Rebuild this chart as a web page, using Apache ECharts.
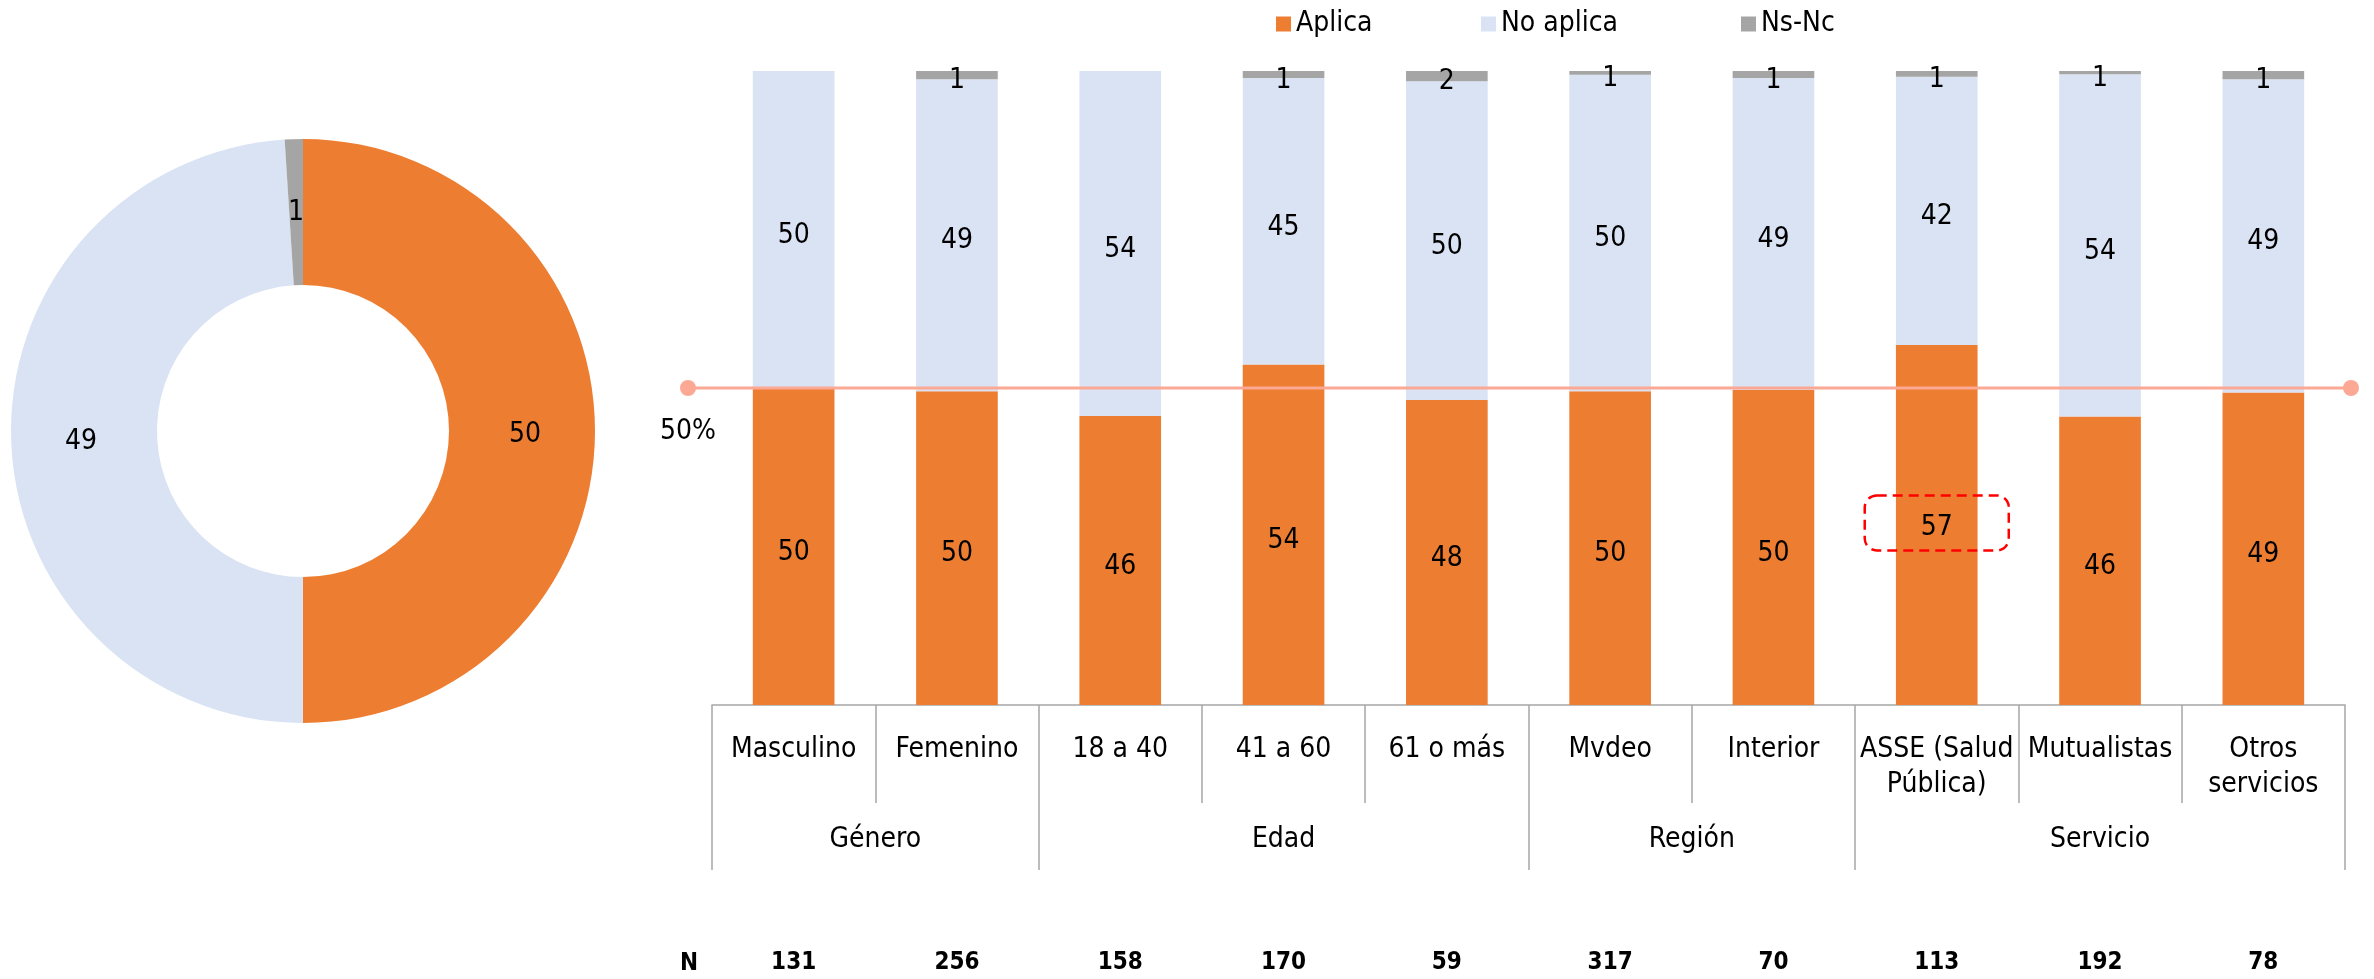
<!DOCTYPE html>
<html>
<head>
<meta charset="utf-8">
<script src="https://cdn.jsdelivr.net/npm/echarts@6/dist/echarts.min.js"></script>
<style>
html,body{margin:0;padding:0;background:#fff;}
#main{width:2374px;height:979px;}
</style>
</head>
<body>
<div id="main"></div>
<script>
// ---- data ----
const seriesNames = ['Aplica', 'No aplica', 'Ns-Nc'];
const categories = ['Masculino', 'Femenino', '18 a 40', '41 a 60', '61 o más', 'Mvdeo', 'Interior', 'ASSE (Salud\nPública)', 'Mutualistas', 'Otros\nservicios'];
const groups = ['Género', 'Edad', 'Región', 'Servicio'];
const groupSizes = [2, 3, 2, 3];
const nValues = [131, 256, 158, 170, 59, 317, 70, 113, 192, 78];
const aplica   = [49.9, 49.5, 45.6, 53.7, 48.1, 49.5, 49.7, 56.8, 45.5, 49.3];
const noAplica = [50.1, 49.2, 54.4, 45.2, 50.3, 49.9, 49.2, 42.3, 54.0, 49.4];
const nsnc     = [0,    1.3,  0,    1.1,  1.6,  0.6,  1.1,  0.9,  0.5,  1.3];
const pieValues = [50, 49, 1];
const refValue = 50;
const refLabel = '50%';
const highlightIndex = 7;

// ---- styles ----
const colors = ['#ED7D31', '#DAE3F3', '#A5A5A5'];
const FONT = '"DejaVu Sans Condensed", "DejaVu Sans", sans-serif';
const lineGray = '#A6A6A6';

// group boundaries and centers
const bounds = [0];
groupSizes.forEach(s => bounds.push(bounds[bounds.length - 1] + s));
const centers = groups.map((g, i) => (bounds[i] + bounds[i + 1]) / 2);

const labelFmt = p => (p.value > 0 ? String(Math.round(p.value)) : '');

const chart = echarts.init(document.getElementById('main'), null, {renderer: 'canvas'});

const aplicaData = aplica.map((v, i) => i === highlightIndex ? {
  value: v,
  label: {
    offset: [0, -2],
    formatter: p => '{h|' + Math.round(p.value) + '}',
    rich: {h: {padding: [10, 0, 0, 0], color: '#000', fontFamily: FONT, fontSize: 28}},
    borderColor: '#FF0000', borderWidth: 2.5, borderType: [10, 6], borderRadius: 12,
    padding: [8, 56, 9, 56]
  }
} : v);

const legendBase = {
  top: 5, itemWidth: 15, itemHeight: 15, icon: 'rect', itemGap: 0,
  textStyle: {fontFamily: FONT, fontSize: 28, color: '#000'}
};

const barLabel = {show: true, position: 'inside', offset: [0, 6], color: '#000', fontFamily: FONT, fontSize: 28, formatter: labelFmt};

const option = {
  animation: false,
  backgroundColor: '#fff',
  title: {
    text: 'N', left: 675, top: 947,
    textStyle: {fontFamily: FONT, fontSize: 24, fontWeight: 'bold', color: '#000'}
  },
  legend: [
    Object.assign({}, legendBase, {left: 1271, data: [seriesNames[0]]}),
    Object.assign({}, legendBase, {left: 1476, data: [seriesNames[1]]}),
    Object.assign({}, legendBase, {left: 1736, data: [seriesNames[2]]})
  ],
  grid: [
    {left: 712, right: 29, top: 71, bottom: 274},
    {left: 688, right: 23, top: 71, bottom: 274}
  ],
  xAxis: [
    {
      type: 'category', gridIndex: 0, data: categories, position: 'bottom',
      axisLine: {show: true, lineStyle: {color: lineGray, width: 1.5}},
      axisTick: {show: true, length: 98, interval: 0, lineStyle: {color: lineGray, width: 1.5}},
      axisLabel: {
        interval: 0, margin: 27, color: '#000', fontFamily: FONT, fontSize: 28,
        lineHeight: 35, verticalAlign: 'top'
      }
    },
    {
      type: 'value', gridIndex: 0, min: 0, max: categories.length, position: 'bottom',
      axisLine: {show: false},
      splitLine: {show: false},
      axisTick: {show: true, length: 165, customValues: bounds, lineStyle: {color: lineGray, width: 1.5}},
      axisLabel: {
        show: true, customValues: centers, margin: 121, color: '#000', fontFamily: FONT, fontSize: 28,
        verticalAlign: 'top',
        formatter: v => { const i = centers.indexOf(v); return i >= 0 ? groups[i] : ''; }
      }
    },
    {
      type: 'category', gridIndex: 0, data: nValues.map(String), position: 'bottom',
      axisLine: {show: false}, axisTick: {show: false},
      axisLabel: {
        interval: 0, margin: 246, color: '#000', fontFamily: FONT, fontSize: 24, fontWeight: 'bold',
        verticalAlign: 'top'
      }
    },
    {
      type: 'value', gridIndex: 1, min: 0, max: 1, show: false
    }
  ],
  yAxis: [
    {type: 'value', gridIndex: 0, min: 0, max: 100, show: false},
    {type: 'value', gridIndex: 1, min: 0, max: 100, show: false}
  ],
  series: [
    {
      name: seriesNames[0], type: 'bar', stack: 'total', xAxisIndex: 0, yAxisIndex: 0,
      barWidth: '50%', data: aplicaData,
      itemStyle: {color: colors[0]},
      label: barLabel,
      emphasis: {disabled: true}
    },
    {
      name: seriesNames[1], type: 'bar', stack: 'total', xAxisIndex: 0, yAxisIndex: 0,
      barWidth: '50%', data: noAplica,
      itemStyle: {color: colors[1]},
      label: barLabel,
      emphasis: {disabled: true}
    },
    {
      name: seriesNames[2], type: 'bar', stack: 'total', xAxisIndex: 0, yAxisIndex: 0,
      barWidth: '50%', data: nsnc,
      itemStyle: {color: colors[2]},
      label: barLabel,
      emphasis: {disabled: true}
    },
    {
      type: 'line', xAxisIndex: 3, yAxisIndex: 1, z: 5,
      data: [
        {value: [0, refValue], label: {show: true, position: 'bottom', distance: 22, formatter: refLabel,
          color: '#000', fontFamily: FONT, fontSize: 28}},
        {value: [1, refValue]}
      ],
      symbol: 'circle', symbolSize: 16,
      itemStyle: {color: '#FBA894'},
      lineStyle: {color: '#FBA894', width: 3},
      emphasis: {disabled: true}
    },
    {
      type: 'pie', center: [303, 431], radius: [146, 292], startAngle: 90, clockwise: true,
      data: seriesNames.map((n, i) => ({name: n, value: pieValues[i], itemStyle: {color: colors[i]}})),
      label: {show: true, position: 'inside', offset: [0, 4], formatter: '{c}', color: '#000', fontFamily: FONT, fontSize: 28},
      labelLine: {show: false},
      emphasis: {disabled: true}
    }
  ]
};

chart.setOption(option);
</script>
</body>
</html>
